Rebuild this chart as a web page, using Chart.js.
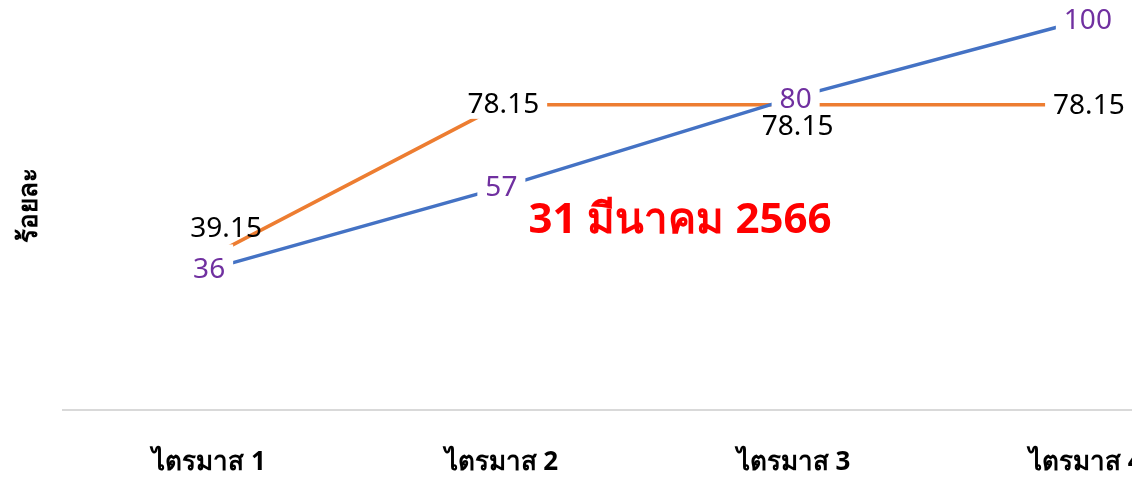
<!DOCTYPE html>
<html>
<head>
<meta charset="utf-8">
<script src="https://cdn.jsdelivr.net/npm/chart.js@4"></script>
<style>
  html,body{margin:0;padding:0;background:#fff;overflow:hidden;}
  #wrap{width:1232px;height:478px;}
</style>
</head>
<body>
<div id="wrap"><canvas id="chart"></canvas></div>
<script>
const quarters = ['ไตรมาส 1','ไตรมาส 2','ไตรมาส 3','ไตรมาส 4'];
const planned = [36, 57, 80, 100];
const actual = [39.15, 78.15, 78.15, 78.15];
const dateNote = '31 มีนาคม 2566';
const yTitle = 'ร้อยละ';

const FONT = 'Tahoma, "Noto Sans", "DejaVu Sans", sans-serif';

// labels drawn on top of lines, white box behind like office charts
const valueLabels = {
  id:'valueLabels',
  afterDatasetsDraw(chart, args, opts){
    const ctx = chart.ctx;
    ctx.save();
    ctx.font = '28px ' + FONT;
    ctx.textAlign = 'center'; ctx.textBaseline = 'middle';
    chart.data.datasets.forEach((ds,di)=>{
      const meta = chart.getDatasetMeta(di);
      const cfg = opts.sets[di];
      meta.data.forEach((pt,i)=>{
        const off = cfg.offsets[i] || [0,0,true,0];
        const x = pt.x + off[0], y = pt.y + off[1];
        const txt = String(ds.data[i]);
        const w = ctx.measureText(txt).width;
        if(off[2]){ const ex = off[3]||0; ctx.fillStyle='#fff'; ctx.fillRect(x-w/2-8, y-14-ex, w+16, 28+ex); }
        ctx.fillStyle = cfg.color;
        ctx.fillText(txt, x, y);
      });
    });
    // date note
    ctx.font = 'bold 42px ' + FONT;
    ctx.fillStyle = '#ff0000';
    ctx.fillText(dateNote, chart.chartArea.left + 617, 221);
    ctx.restore();
  }
};

new Chart(document.getElementById('chart'), {
  type:'line',
  data:{
    labels: quarters,
    datasets:[
      {label:'แผน', data: planned, borderColor:'#4472C4', borderWidth:3.5, pointRadius:0, tension:0, clip:false},
      {label:'ผล', data: actual, borderColor:'#ED7D31', borderWidth:3.5, pointRadius:0, tension:0, clip:false}
    ]
  },
  options:{
    responsive:true, maintainAspectRatio:false, animation:false,
    layout:{padding:{top:0,right:0,bottom:0,left:0}},
    plugins:{
      legend:{display:false}, tooltip:{enabled:false},
      valueLabels:{sets:[
        {color:'#7030A0', offsets:[[0,1,true,12],[0,1,true],[2,2,true],[2,2,true]]},
        {color:'#000000', offsets:[[17,-28,false],[2,0,true],[4,22,false],[3,1,true]]}
      ]}
    },
    scales:{
      x:{
        offset:true,
        grid:{display:false},
        border:{display:true, color:'#d9d9d9', width:2},
        ticks:{color:'#000', font:{family:FONT, size:26, weight:'bold'}, padding:29, maxRotation:0, autoSkip:false},
        afterFit: s => { s.height = 68; }
      },
      y:{
        min:0, max:105,
        grid:{display:false},
        border:{display:false},
        ticks:{display:false},
        title:{display:true, text:yTitle, color:'#000', font:{family:FONT, size:26, weight:'bold'}, padding:{top:14,bottom:0}},
        afterFit: s => { s.width = 63; }
      }
    }
  },
  plugins:[valueLabels]
});
</script>
</body>
</html>
